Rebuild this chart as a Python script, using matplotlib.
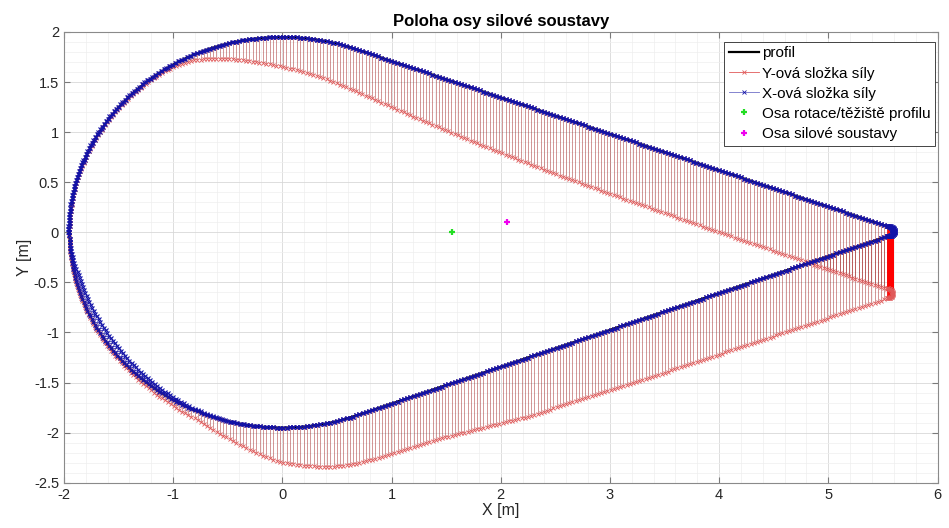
import numpy as np
import matplotlib.pyplot as plt
from matplotlib.collections import LineCollection
from matplotlib.lines import Line2D
from matplotlib.ticker import MultipleLocator, FuncFormatter

plt.rcParams['font.family'] = ['Liberation Sans', 'DejaVu Sans']
plt.rcParams['axes.unicode_minus'] = False

# profile geometry [m]: round nose, straight flanks, small rounded trailing edge
nose_radius = 1.95
te_center = (5.54, 0.01)
te_radius = 0.05
panel_step = 0.031
cap_points = 36

# axis points [m]
rot_axis = (1.55, 0.0)
force_axis = (2.06, 0.10)

# force components along the upper side, as a function of x [m]
upper_x = [-1.95, -1.5, -1.05, -0.8, -0.55, -0.3, 0.0, 0.56, 1.17, 1.78, 2.4, 3.0, 4.0, 5.54]
upper_fy = [0.0, -0.01, -0.02, -0.06, -0.14, -0.22, -0.30, -0.41, -0.48, -0.54, -0.58, -0.60, -0.62, -0.63]
upper_fx_x = [-1.95, -1.5, -1.0, 0.0, 5.54]
upper_fx = [-0.01, -0.015, -0.01, 0.0, 0.0]

# force components along the lower side
lower_x = [-1.95, -1.7, -1.4, -1.1, -0.79, -0.5, -0.03, 0.43, 0.74, 1.51, 2.24, 3.35, 5.54]
lower_fy = [-0.01, -0.02, -0.03, -0.05, -0.08, -0.17, -0.34, -0.44, -0.49, -0.52, -0.59, -0.61, -0.62]
lower_fx_x = [-1.95, -1.9, -1.7, -1.4, -1.1, -0.8, -0.4, 0.0, 5.54]
lower_fx = [0.0, 0.04, 0.07, 0.07, 0.05, 0.03, 0.01, 0.0, 0.0]

# trailing edge cap
cap_fy = -0.62
cap_fx = 0.02


def resample(px, py, step):
    s = np.concatenate([[0], np.cumsum(np.hypot(np.diff(px), np.diff(py)))])
    n = int(s[-1] / step) + 1
    t = np.linspace(0, s[-1], n)
    return np.interp(t, s, px), np.interp(t, s, py)


def side(sign):
    # nose arc from the leading edge to the tangent point, then a line to the cap
    cx, cy = te_center
    ex, ey = cx, cy + sign * te_radius
    d = np.hypot(ex, ey)
    phi = np.arctan2(ey, ex)
    theta = phi + sign * np.arccos(nose_radius / d)
    if sign > 0:
        ang = np.linspace(np.pi, theta, 800)
    else:
        ang = np.linspace(np.pi, 2 * np.pi + theta, 800)
    ax_ = nose_radius * np.cos(ang)
    ay_ = nose_radius * np.sin(ang)
    lx = np.linspace(ax_[-1], ex, 800)
    ly = np.linspace(ay_[-1], ey, 800)
    return resample(np.concatenate([ax_, lx[1:]]), np.concatenate([ay_, ly[1:]]), panel_step)


ux, uy = side(1)
lx, ly = side(-1)
cap_ang = np.linspace(np.pi / 2, -np.pi / 2, cap_points)
cx = te_center[0] + te_radius * np.cos(cap_ang)
cy = te_center[1] + te_radius * np.sin(cap_ang)

px = np.concatenate([ux, lx, cx])
py = np.concatenate([uy, ly, cy])
fy = np.concatenate([np.interp(ux, upper_x, upper_fy),
                     np.interp(lx, lower_x, lower_fy),
                     np.full(cap_points, cap_fy)])
fx = np.concatenate([np.interp(ux, upper_fx_x, upper_fx),
                     np.interp(lx, lower_fx_x, lower_fx),
                     np.full(cap_points, cap_fx)])

# closed outline for the black profile line
outline_x = np.concatenate([ux[::-1], lx, cx[::-1]])
outline_y = np.concatenate([uy[::-1], ly, cy[::-1]])

fig = plt.figure(figsize=(9.49, 5.28), dpi=100)
ax = fig.add_axes([0.0674, 0.0858, 0.9205, 0.8536])

red_line = (0.63, 0.13, 0.13, 0.6)
red_mark = '#e05a5a'
blue = '#1212a8'

ax.plot(outline_x, outline_y, color='k', lw=1.6, zorder=2)

# Y components: vertical segments, the overlapping ones at the cap show as solid red
seg_y = np.stack([np.column_stack([px, py]), np.column_stack([px, py + fy])], axis=1)
seg_colors = [red_line] * (len(px) - cap_points) + [(1, 0, 0, 1)] * cap_points
ax.add_collection(LineCollection(seg_y, colors=seg_colors, linewidths=0.55, zorder=3))
ax.plot(np.concatenate([px, px]), np.concatenate([py, py + fy]), ls='none',
        marker='x', ms=3, mew=0.6, color=red_mark, zorder=3)

# X components: horizontal segments
seg_x = np.stack([np.column_stack([px, py]), np.column_stack([px + fx, py])], axis=1)
ax.add_collection(LineCollection(seg_x, colors=blue, linewidths=0.5, zorder=4))
ax.plot(np.concatenate([px, px + fx]), np.concatenate([py, py]), ls='none',
        marker='x', ms=3.2, mew=0.8, color=blue, zorder=4)

ax.plot(*rot_axis, ls='none', marker='+', ms=5, mew=1.6, color='#22dd22', zorder=5)
ax.plot(*force_axis, ls='none', marker='+', ms=5, mew=1.6, color='#ee00ee', zorder=5)

ax.set_xlim(-2, 6)
ax.set_ylim(-2.5, 2)
ax.xaxis.set_major_locator(MultipleLocator(1))
ax.yaxis.set_major_locator(MultipleLocator(0.5))
ax.xaxis.set_minor_locator(MultipleLocator(0.2))
ax.yaxis.set_minor_locator(MultipleLocator(0.1))
fmt = FuncFormatter(lambda v, p: f'{v:g}')
ax.xaxis.set_major_formatter(fmt)
ax.yaxis.set_major_formatter(fmt)
ax.grid(which='major', color='#d8d8d8', lw=0.6)
ax.grid(which='minor', color='#eeeeee', lw=0.5)
ax.set_axisbelow(True)
ax.tick_params(which='major', direction='in', top=True, right=True, length=4,
               color='#7a7a7a', labelsize=10.5, labelcolor='#262626')
ax.tick_params(which='minor', length=0)
for s in ax.spines.values():
    s.set_color('#8a8a8a')
    s.set_linewidth(0.8)

ax.set_title('Poloha osy silové soustavy', fontsize=12, fontweight='bold', pad=4)
ax.set_xlabel('X [m]', fontsize=11.5, labelpad=1, color='#262626')
ax.set_ylabel('Y [m]', fontsize=11.5, labelpad=1, color='#262626')

handles = [
    Line2D([], [], color='k', lw=1.6),
    Line2D([], [], color=red_mark, lw=0.6, marker='x', ms=3, mew=0.6),
    Line2D([], [], color='#7070c8', lw=0.6, marker='x', ms=3, mew=0.6, mec=blue),
    Line2D([], [], ls='none', marker='+', ms=5, mew=1.6, color='#22dd22'),
    Line2D([], [], ls='none', marker='+', ms=5, mew=1.6, color='#ee00ee'),
]
labels = ['profil', 'Y-ová složka síly', 'X-ová složka síly',
          'Osa rotace/těžiště profilu', 'Osa silové soustavy']
leg = ax.legend(handles, labels, loc='upper right', bbox_to_anchor=(0.997, 0.978),
                fontsize=11, fancybox=False, framealpha=1, edgecolor='#262626',
                handlelength=2.0, handletextpad=0.15, labelspacing=0.4,
                borderpad=0.3, borderaxespad=0)
leg.get_frame().set_linewidth(0.6)

fig.savefig('out.png', dpi=100)
